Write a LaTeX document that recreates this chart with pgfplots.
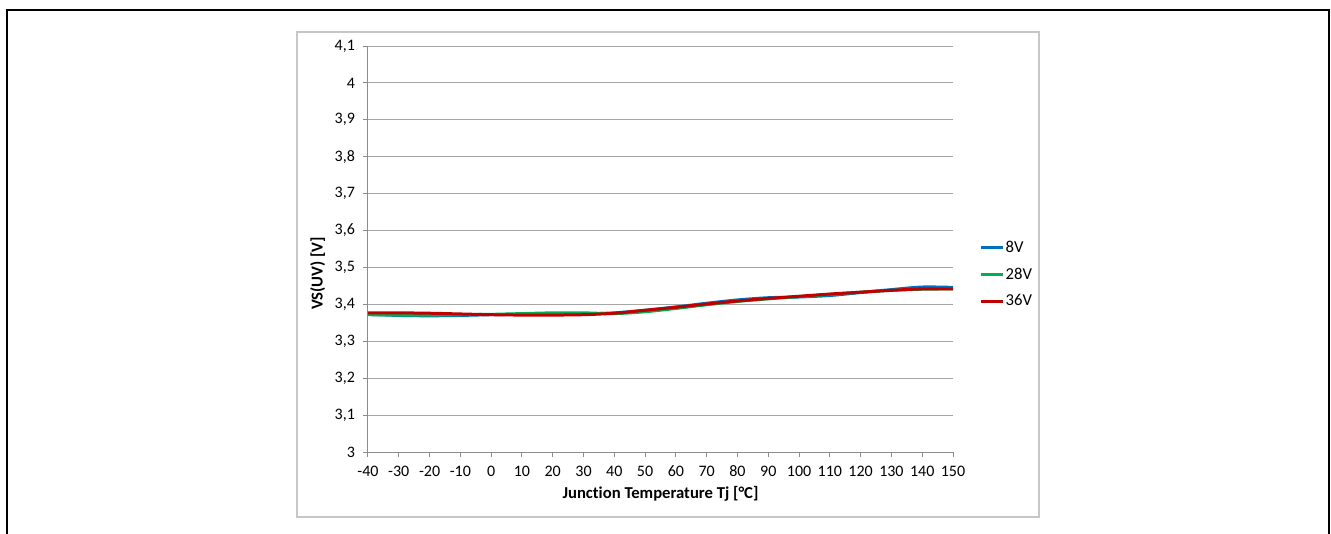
\documentclass[border=0pt]{standalone}
\usepackage{fontspec}
\setmainfont{Carlito}[Ligatures=NoCommon]
\usepackage{pgfplots}
\pgfplotsset{compat=1.18}

\definecolor{c8}{RGB}{0,112,192}
\definecolor{c28}{RGB}{0,176,80}
\definecolor{c36}{RGB}{192,0,0}

% T  V8  V28  V36
\pgfplotstableread{
T    a      b      c
-40  3.373  3.372  3.377
-30  3.370  3.371  3.377
-20  3.369  3.371  3.376
-10  3.370  3.372  3.374
0    3.372  3.373  3.372
10   3.373  3.375  3.371
20   3.373  3.377  3.371
30   3.374  3.377  3.372
40   3.377  3.375  3.376
50   3.384  3.380  3.384
60   3.393  3.389  3.392
70   3.403  3.399  3.401
80   3.412  3.408  3.409
90   3.418  3.415  3.416
100  3.420  3.421  3.422
110  3.424  3.427  3.428
120  3.432  3.433  3.433
130  3.440  3.438  3.438
140  3.447  3.441  3.442
150  3.446  3.442  3.442
}\data

\begin{document}
\begin{tikzpicture}
\begin{axis}[
    width=438.75pt, height=304.5pt, scale only axis,
    xmin=-40, xmax=150, ymin=3, ymax=4.1,
    xtick={-40,-30,...,150},
    ytick={3,3.1,3.2,3.3,3.4,3.5,3.6,3.7,3.8,3.9,4,4.1},
    axis x line*=bottom, axis y line*=left,
    axis line style={black!45, line width=0.75pt, -},
    tick style={black!45, line width=0.75pt},
    tick align=outside, major tick length=3.75pt,
    ymajorgrids, grid style={black!35, line width=0.75pt},
    tick label style={font=\fontsize{12}{14}\selectfont, black},
    /pgf/number format/assume math mode=true,
    yticklabel style={/pgf/number format/use comma, /pgf/number format/fixed,
        /pgf/number format/precision=1, xshift=-2.5pt},
    xticklabel style={yshift=-3pt},
    xlabel={Junction Temperature Tj [°C]},
    ylabel={VS(UV) [V]},
    label style={font=\fontsize{12.5}{14}\selectfont\bfseries},
    xlabel style={at={(axis description cs:0.5,0)}, anchor=center, yshift=-31.5pt},
    ylabel style={at={(axis description cs:-0.086,0.44)}, anchor=center},
    legend style={at={(axis description cs:1,0.437)}, anchor=west, xshift=20pt,
        draw=none, fill=none, font=\fontsize{12.5}{14}\selectfont,
        row sep=9pt, inner sep=0pt, nodes={inner sep=0.5pt}},
    legend cell align=left,
    legend image code/.code={\draw[#1, line width=2.25pt] (0pt,0pt) -- (16.5pt,0pt);},
    every axis plot/.append style={line width=2.25pt, smooth, no markers},
]
\addplot[c8] table[x=T, y=a] {\data};
\addplot[c28] table[x=T, y=b] {\data};
\addplot[c36] table[x=T, y=c] {\data};
\legend{8V,28V,36V}
\end{axis}
\draw[black!22, line width=1pt] (-53.25pt,-48.75pt) rectangle (503.25pt,315pt);
\draw[line width=0.9pt] (-270.75pt,-62pt) -- (-270.75pt,331.5pt) -- (720.75pt,331.5pt) -- (720.75pt,-62pt);
\pgfresetboundingbox
\path[use as bounding box] (-276pt,-60.75pt) rectangle (722.25pt,339pt);
\end{tikzpicture}
\end{document}
